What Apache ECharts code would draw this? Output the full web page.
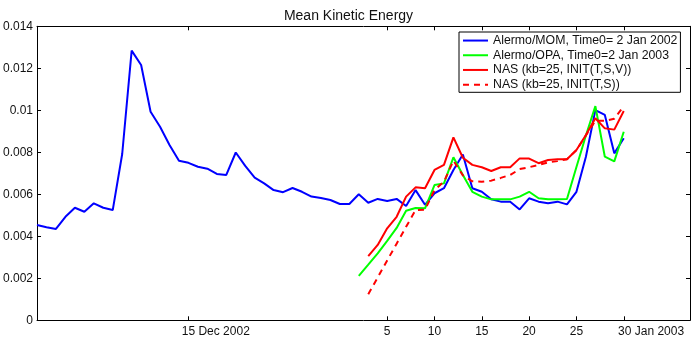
<!DOCTYPE html>
<html>
<head>
<meta charset="utf-8">
<script src="https://cdn.jsdelivr.net/npm/echarts@6/dist/echarts.min.js"></script>
<style>
html,body{margin:0;padding:0;background:#fff;}
#c{width:696px;height:348px;}
</style>
</head>
<body>
<div id="c"></div>
<script>
// x = day relative to 31 Dec 2002 (1 = 1 Jan 2003)
const titleText = 'Mean Kinetic Energy';
const seriesNames = ['Alermo/MOM, Time0= 2 Jan 2002', 'Alermo/OPA, Time0=2 Jan 2003', 'NAS (kb=25, INIT(T,S,V))', 'NAS (kb=25, INIT(T,S))'];
const xTickDays = [-16, 5, 10, 15, 20, 25, 30];
const xTickLabels = ['15 Dec 2002', '5', '10', '15', '20', '25', '30 Jan 2003'];
const yTicks = [0, 0.002, 0.004, 0.006, 0.008, 0.01, 0.012, 0.014];

const momDays = [-32,-31,-30,-29,-28,-27,-26,-25,-24,-23,-22,-21,-20,-19,-18,-17,-16,-15,-14,-13,-12,-11,-10,-9,-8,-7,-6,-5,-4,-3,-2,-1,0,1,2,3,4,5,6,7,8,9,10,11,12,13,14,15,16,17,18,19,20,21,22,23,24,25,26,27,28,29,30];
const momValues = [0.00454,0.00443,0.00435,0.00493,0.00536,0.00517,0.00557,0.00536,0.00525,0.00792,0.01284,0.01216,0.00993,0.00922,0.00835,0.0076,0.0075,0.00731,0.00722,0.00697,0.00692,0.00799,0.00735,0.00679,0.00652,0.0062,0.0061,0.0063,0.00612,0.00589,0.00582,0.00573,0.00554,0.00554,0.006,0.0056,0.00578,0.00568,0.00578,0.00544,0.0062,0.0055,0.00605,0.00629,0.00716,0.0079,0.00629,0.00612,0.00576,0.00565,0.00565,0.00528,0.00581,0.00565,0.00557,0.00565,0.00552,0.00612,0.00779,0.01001,0.00978,0.00795,0.00867];

const opaDays = [2,3,4,5,6,7,8,9,10,11,12,13,14,15,16,17,18,19,20,21,22,23,24,25,26,27,28,29,30];
const opaValues = [0.00212,0.00265,0.00319,0.00378,0.0044,0.00522,0.00535,0.00533,0.00644,0.00652,0.00776,0.00692,0.00612,0.00589,0.00576,0.00576,0.00576,0.00589,0.00612,0.00581,0.00576,0.00576,0.00578,0.0073,0.0088,0.0102,0.00779,0.00757,0.00898];

const nasTSVDays = [3,4,5,6,7,8,9,10,11,12,13,14,15,16,17,18,19,20,21,22,23,24,25,26,27,28,29,30];
const nasTSVValues = [0.00306,0.00359,0.00438,0.00493,0.00589,0.00633,0.00629,0.00716,0.0074,0.00871,0.00774,0.0074,0.00729,0.00711,0.00729,0.00729,0.00771,0.0077,0.00748,0.00763,0.00767,0.00767,0.00811,0.00882,0.00962,0.00914,0.00908,0.00997];

const nasTSDays = [3,4,5,6,7,8,9,10,11,12,13,14,15,16,17,18,19,20,21,22,23,24,25,26,27,28,29,30];
const nasTSValues = [0.00124,0.00204,0.00285,0.00365,0.00445,0.00525,0.00527,0.0062,0.0066,0.0076,0.0069,0.00662,0.0066,0.00665,0.00678,0.00692,0.0072,0.00729,0.0074,0.00752,0.00758,0.00767,0.0081,0.0088,0.0095,0.0095,0.0096,0.0102];

function pairs(xs, ys){ return xs.map((x,i)=>[x, ys[i]]); }

const chart = echarts.init(document.getElementById('c'), null, {renderer:'canvas'});
const FONT = 'Liberation Sans, Arial, Helvetica, sans-serif';
const axisLineStyle = {color:'#000', width:1};

function xLabelFmt(v){
  const i = xTickDays.indexOf(v);
  if (i < 0) return '';
  const s = xTickLabels[i];
  if (s.indexOf(' ') > 0) return '{p|}' + s;
  return s;
}

const xCommon = {
  type:'value', min:-32, max:37,
  splitLine:{show:false},
  axisLine:{show:true, onZero:false, lineStyle:axisLineStyle},
  axisTick:{show:true, inside:true, length:4, customValues:xTickDays, lineStyle:axisLineStyle},
};
const yCommon = {
  type:'value', min:0, max:0.014, interval:0.002,
  splitLine:{show:false},
  axisLine:{show:true, onZero:false, lineStyle:axisLineStyle},
  axisTick:{show:true, inside:true, length:4, lineStyle:axisLineStyle},
};

chart.setOption({
  animation:false,
  backgroundColor:'#fff',
  textStyle:{fontFamily:FONT},
  title:{
    text:titleText, left:343.5, top:4, textAlign:'center',
    textStyle:{fontFamily:FONT, fontSize:14, fontWeight:'normal', color:'#111'}
  },
  grid:{left:36, right:6, top:26.3, bottom:27.7, containLabel:false},
  legend:{
    orient:'vertical', left:459, top:32,
    padding:[1.2,3,0.3,3], itemGap:0, itemWidth:25, itemHeight:12,
    borderColor:'#000', borderWidth:1, backgroundColor:'#fff',
    itemStyle:{opacity:0},
    textStyle:{fontFamily:FONT, fontSize:12.3, color:'#111', lineHeight:14.7},
    data:seriesNames
  },
  xAxis:[
    Object.assign({}, xCommon, {position:'bottom',
      axisLabel:{show:true, customValues:xTickDays, margin:5, fontFamily:FONT, fontSize:12, color:'#111',
        formatter:xLabelFmt, rich:{p:{width:54.7}}}}),
    Object.assign({}, xCommon, {position:'top', axisLabel:{show:false}})
  ],
  yAxis:[
    Object.assign({}, yCommon, {position:'left',
      axisLabel:{show:true, margin:4, fontFamily:FONT, fontSize:12, color:'#111',
        formatter:v=>String(+v.toFixed(3))}}),
    Object.assign({}, yCommon, {position:'right', axisLabel:{show:false}})
  ],
  series:[
    {name:seriesNames[0], type:'line', data:pairs(momDays, momValues), symbol:'none',
      lineStyle:{color:'#0000ff', width:2}, itemStyle:{color:'#0000ff'}},
    {name:seriesNames[1], type:'line', data:pairs(opaDays, opaValues), symbol:'none',
      lineStyle:{color:'#00ff00', width:2}, itemStyle:{color:'#00ff00'}},
    {name:seriesNames[2], type:'line', data:pairs(nasTSVDays, nasTSVValues), symbol:'none',
      lineStyle:{color:'#ff0000', width:2}, itemStyle:{color:'#ff0000'}},
    {name:seriesNames[3], type:'line', data:pairs(nasTSDays, nasTSValues), symbol:'none',
      lineStyle:{color:'#ff0000', width:2, type:[6,5]}, itemStyle:{color:'#ff0000'}}
  ]
});
</script>
</body>
</html>
